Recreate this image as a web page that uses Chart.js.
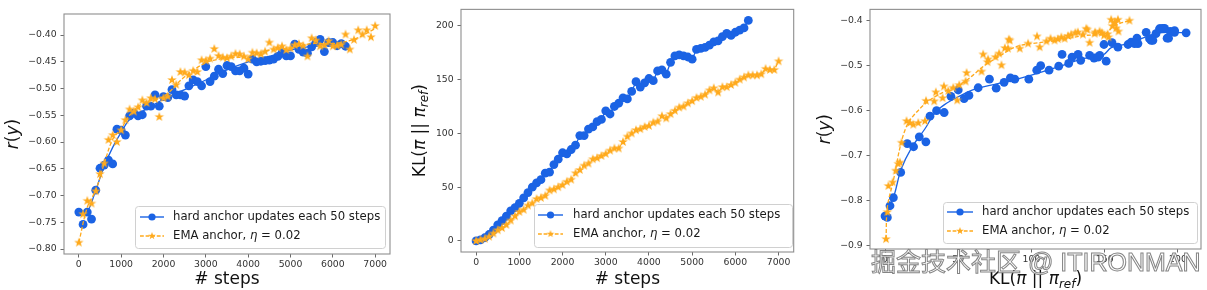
<!DOCTYPE html>
<html>
<head>
<meta charset="utf-8">
<script src="https://cdn.jsdelivr.net/npm/chart.js@4.4.1/dist/chart.umd.min.js"></script>
<style>
  body { margin: 0; background: #fff; }
  #wrap { position: relative; width: 1207px; height: 290px; overflow: hidden; background: #fff; }
  canvas { position: absolute; top: 0; }
  #watermark {
    position: absolute; left: 871px; top: 247px;
    font-family: "Liberation Sans", "Noto Sans CJK SC", sans-serif;
    font-size: 25px; line-height: 30px; white-space: nowrap;
    color: rgba(255,255,255,0.92);
    -webkit-text-stroke: 1px rgba(110,110,110,0.85);
  }
</style>
</head>
<body>
<div id="wrap">
  <canvas id="c1" width="400" height="290" style="left:0"></canvas>
  <canvas id="c2" width="400" height="290" style="left:400px"></canvas>
  <canvas id="c3" width="407" height="290" style="left:800px"></canvas>
  <div id="watermark">掘金技术社区 @ ITIRONMAN</div>
</div>
<script>
// ---- data ----
const hardSteps = [0,100,200,300,400,500,600,700,800,900,1000,1100,1200,1300,1400,1500,1600,1700,1800,1900,
  2000,2100,2200,2300,2400,2500,2600,2700,2800,2900,3000,3100,3200,3300,3400,3500,3600,3700,3800,3900,
  4000,4100,4200,4300,4400,4500,4600,4700,4800,4900,5000,5100,5200,5300,5400,5500,5600,5700,5800,5900,
  6000,6100,6200,6300];
const emaSteps = [0,100,200,300,400,500,600,700,800,900,1000,1100,1200,1300,1400,1500,1600,1700,1800,1900,
  2000,2100,2200,2300,2400,2500,2600,2700,2800,2900,3000,3100,3200,3300,3400,3500,3600,3700,3800,3900,
  4000,4100,4200,4300,4400,4500,4600,4700,4800,4900,5000,5100,5200,5300,5400,5500,5600,5700,5800,5900,
  6000,6100,6200,6300,6400,6500,6600,6700,6800,6900,7000];

// panel 1: reward vs steps
const hardReward = [-0.731,-0.754,-0.731,-0.744,-0.690,-0.649,-0.643,-0.634,-0.641,-0.576,
  -0.578,-0.587,-0.551,-0.546,-0.551,-0.549,-0.533,-0.533,-0.512,-0.533,
  -0.515,-0.517,-0.502,-0.512,-0.512,-0.514,-0.495,-0.484,-0.487,-0.495,
  -0.459,-0.487,-0.477,-0.464,-0.472,-0.457,-0.459,-0.467,-0.467,-0.462,
  -0.473,-0.445,-0.450,-0.449,-0.448,-0.447,-0.445,-0.440,-0.433,-0.439,
  -0.439,-0.417,-0.427,-0.432,-0.434,-0.422,-0.414,-0.408,-0.431,-0.414,
  -0.414,-0.420,-0.416,-0.421];
const emaReward = [-0.788,-0.735,-0.710,-0.715,-0.692,-0.660,-0.640,-0.596,-0.587,-0.600,
  -0.578,-0.559,-0.539,-0.543,-0.535,-0.522,-0.527,-0.518,-0.520,-0.553,
  -0.518,-0.515,-0.484,-0.493,-0.469,-0.470,-0.475,-0.467,-0.469,-0.447,
  -0.448,-0.444,-0.426,-0.439,-0.442,-0.443,-0.440,-0.435,-0.436,-0.440,
  -0.445,-0.433,-0.434,-0.436,-0.431,-0.414,-0.427,-0.424,-0.421,-0.428,
  -0.425,-0.419,-0.417,-0.420,-0.440,-0.406,-0.410,-0.421,-0.419,-0.411,
  -0.421,-0.420,-0.418,-0.399,-0.427,-0.409,-0.391,-0.399,-0.391,-0.404,
  -0.383];
const hardCurveSteps = [0,200,400,600,800,1000,1200,1500,2000,2500,3000,3500,4000,4500,5000,5500,6000,6300];
const hardCurveReward = [-0.735,-0.730,-0.690,-0.645,-0.610,-0.582,-0.558,-0.543,-0.520,-0.502,
  -0.484,-0.465,-0.450,-0.440,-0.428,-0.421,-0.415,-0.416];
const emaCurveSteps = [0,200,400,600,800,1000,1200,1500,2000,2500,3000,3500,4000,4500,5000,5500,6000,6500,7000];
const emaCurveReward = [-0.788,-0.722,-0.690,-0.640,-0.595,-0.575,-0.550,-0.528,-0.515,-0.478,
  -0.452,-0.443,-0.440,-0.428,-0.424,-0.416,-0.416,-0.408,-0.388];

// panel 2: KL vs steps
const hardKL = [0,1,3,6,10,15,19,23,28,31,35,40,45,50,54,57,63,64,71,76,
  82,81,85,89,98,98,104,106,111,113,121,118,125,128,133,132,139,148,143,147,
  151,149,158,159,155,166,172,173,172,171,169,178,179,180,182,185,186,190,193,191,
  194,196,198,205];
const emaKL = [0,1,2,4,7,10,12,15,19,23,27,29,33,35,39,40,42,47,48,50,
  52,55,57,63,66,70,72,76,77,79,81,84,86,86,92,97,100,103,104,106,
  107,110,111,116,114,118,121,124,125,128,130,133,134,136,140,142,138,143,143,145,
  147,150,152,154,154,154,155,160,159,159,167];

// panel 3: reward vs KL
const hardKL3 = [0,1.6,3.4,5.7,10.7,15.2,19.5,23.4,27.9,30.7,35.2,40.4,45,50,54,57.3,63.6,71.3,75.9,81.3,
  85.6,88.6,98.2,103.6,106.3,112,118.6,120.9,125.4,127.7,131.8,133.6,139.7,142.7,146.6,149.5,151,155,159,165.9,
  168,172,172.7,178.3,181.7,185,188.1,190.9,192.6,194.7,197.7,205.6,145.4,170.4,180.6,182.9,187.4,189.7,193.6,197.7];
const hardReward3 = [-0.834,-0.837,-0.811,-0.793,-0.737,-0.673,-0.680,-0.658,-0.669,-0.612,
  -0.600,-0.604,-0.568,-0.554,-0.573,-0.566,-0.549,-0.530,-0.550,-0.537,
  -0.527,-0.530,-0.530,-0.510,-0.500,-0.510,-0.501,-0.475,-0.495,-0.481,
  -0.475,-0.488,-0.477,-0.483,-0.477,-0.453,-0.490,-0.449,-0.459,-0.453,
  -0.448,-0.439,-0.451,-0.426,-0.444,-0.429,-0.418,-0.417,-0.439,-0.424,
  -0.422,-0.427,-0.481,-0.451,-0.440,-0.444,-0.418,-0.417,-0.439,-0.426];
const emaKL3 = [0.7,1.6,2.3,5.2,7.3,9,10.2,11.3,14.7,17,19.3,22.7,27.3,28,33.6,34.7,39.3,40.2,43.2,46.6,
  49.3,50.7,55,55.7,65.9,67,70,70.4,75.4,77.9,79.5,84,84.5,92,97.7,103.8,105.6,110.2,115.8,120.4,
  122.6,127.1,131.7,135.1,138.1,139.7,143.1,146.5,149.5,152.6,154.4,156.7,157.8,159,159.4,166.9,
  81.8,85.2,113,118,125,130,137.4,143.5,148,152,155.2,157];
const emaReward3 = [-0.885,-0.825,-0.767,-0.759,-0.733,-0.718,-0.715,-0.671,-0.623,-0.627,
  -0.631,-0.627,-0.623,-0.578,-0.579,-0.559,-0.572,-0.546,-0.556,-0.549,
  -0.577,-0.543,-0.535,-0.516,-0.513,-0.475,-0.492,-0.486,-0.481,-0.473,
  -0.499,-0.462,-0.442,-0.462,-0.451,-0.435,-0.459,-0.446,-0.444,-0.437,
  -0.440,-0.431,-0.426,-0.431,-0.420,-0.449,-0.429,-0.424,-0.433,-0.437,
  -0.398,-0.405,-0.417,-0.398,-0.424,-0.400,
  -0.461,-0.444,-0.440,-0.441,-0.434,-0.427,-0.418,-0.426,-0.427,-0.430,-0.412,-0.404];
const hardCurveKL3 = [0,3,6.5,11,18,27.3,34,40.4,50,61.3,84,100,118,136,149,154.5,166,175,186,196,205.6];
const hardCurveReward3 = [-0.835,-0.815,-0.785,-0.730,-0.683,-0.640,-0.605,-0.587,-0.569,-0.552,
  -0.535,-0.521,-0.503,-0.484,-0.476,-0.460,-0.451,-0.440,-0.428,-0.426,-0.427];
const emaCurveKL3 = [0.7,1.6,5.7,10.2,14,18.1,29.5,40.9,54.5,68.2,77.2,88.6,100,118,136.3,150,156.8,166.9];
const emaCurveReward3 = [-0.885,-0.814,-0.755,-0.682,-0.640,-0.616,-0.579,-0.557,-0.535,-0.499,
  -0.481,-0.459,-0.451,-0.444,-0.433,-0.429,-0.411,-0.400];

// tick labels
const stepTicks = [0,1000,2000,3000,4000,5000,6000,7000];
const rewardTicks1 = [-0.80,-0.75,-0.70,-0.65,-0.60,-0.55,-0.50,-0.45,-0.40];
const klTicks = [0,50,100,150,200];
const rewardTicks3 = [-0.9,-0.8,-0.7,-0.6,-0.5,-0.4];

const legendLabels = ['hard anchor updates each 50 steps', 'EMA anchor, '];

// ---- styling helpers ----
const BLUE = '#1b63e4';
const ORANGE = '#ffaa1d';
const FONT = '"DejaVu Sans", sans-serif';

function makeStar(r, color) {
  const s = Math.ceil(r * 2) + 2;
  const c = document.createElement('canvas');
  c.width = s; c.height = s;
  const g = c.getContext('2d');
  g.fillStyle = color;
  g.beginPath();
  for (let i = 0; i < 10; i++) {
    const rad = i % 2 ? r * 0.4 : r;
    const a = -Math.PI / 2 + i * Math.PI / 5;
    g.lineTo(s / 2 + rad * Math.cos(a), s / 2 + rad * Math.sin(a));
  }
  g.closePath();
  g.fill();
  return c;
}
const starBig = makeStar(5, ORANGE);
const starSmall = makeStar(4, ORANGE);

const pts = (xs, ys) => xs.map((x, i) => ({ x: x, y: ys[i] }));
const minus = s => s.replace('-', '\u2212');

function drawRich(ctx, parts, cx, cy, rot) {
  ctx.save();
  ctx.translate(cx, cy);
  if (rot) ctx.rotate(-Math.PI / 2);
  ctx.textBaseline = 'alphabetic';
  ctx.fillStyle = '#111';
  let w = 0;
  parts.forEach(p => { ctx.font = p.f; p.w = ctx.measureText(p.t).width; w += p.w; });
  let x = -w / 2;
  parts.forEach(p => { ctx.font = p.f; ctx.fillText(p.t, x, p.dy || 0); x += p.w; });
  ctx.restore();
}

const REG = '17px ' + FONT;
const ITA = 'italic 17px ' + FONT;
const rLabel = [{ t: 'r', f: ITA }, { t: '(', f: REG }, { t: 'y', f: ITA }, { t: ')', f: REG }];
const klLabel = [{ t: 'KL(', f: REG }, { t: '\u03c0', f: ITA }, { t: ' || ', f: REG },
  { t: '\u03c0', f: ITA }, { t: 'ref', f: 'italic 12px ' + FONT, dy: 3.5 }, { t: ')', f: REG }];
const stepsLabel = [{ t: '# steps', f: REG }];

function drawLegend(ctx, L) {
  ctx.save();
  ctx.beginPath();
  ctx.roundRect(L.x + 0.5, L.y + 0.5, L.w, L.h, 3);
  ctx.fillStyle = 'rgba(255,255,255,0.8)';
  ctx.fill();
  ctx.strokeStyle = '#d0d0d0';
  ctx.lineWidth = 1;
  ctx.stroke();
  const mid = (L.lx0 + L.lx1) / 2;
  // row 1
  ctx.strokeStyle = BLUE; ctx.lineWidth = 1.4; ctx.setLineDash([]);
  ctx.beginPath(); ctx.moveTo(L.lx0, L.y1); ctx.lineTo(L.lx1, L.y1); ctx.stroke();
  ctx.fillStyle = BLUE;
  ctx.beginPath(); ctx.arc(mid, L.y1, 3.6, 0, Math.PI * 2); ctx.fill();
  // row 2
  ctx.strokeStyle = ORANGE; ctx.setLineDash([3.8, 1.8]);
  ctx.beginPath(); ctx.moveTo(L.lx0, L.y2); ctx.lineTo(L.lx1, L.y2); ctx.stroke();
  ctx.setLineDash([]);
  ctx.drawImage(starSmall, mid - starSmall.width / 2, L.y2 - starSmall.height / 2);
  // texts
  ctx.fillStyle = '#1a1a1a';
  ctx.textBaseline = 'middle';
  ctx.font = '11.7px ' + FONT;
  ctx.fillText(legendLabels[0], L.tx, L.y1);
  let x = L.tx;
  ctx.fillText(legendLabels[1], x, L.y2);
  x += ctx.measureText(legendLabels[1]).width;
  ctx.font = 'italic 11.7px ' + FONT;
  ctx.fillText('\u03b7', x, L.y2);
  x += ctx.measureText('\u03b7').width;
  ctx.font = '11.7px ' + FONT;
  ctx.fillText(' = 0.02', x, L.y2);
  ctx.restore();
}

function axis(min, max, size, ticks, fmt, isX) {
  return {
    type: 'linear', min: min, max: max,
    afterFit: s => { if (isX) s.height = size; else s.width = size; },
    afterBuildTicks: s => { s.ticks = ticks.map(v => ({ value: v })); },
    grid: { drawOnChartArea: false, drawTicks: true, tickLength: 3.5, color: '#444', lineWidth: 0.8 },
    border: { display: false },
    ticks: { font: { family: FONT, size: 9.3 }, color: '#333', padding: isX ? 2 : 3.8,
      maxRotation: 0, autoSkip: false, callback: fmt }
  };
}

function dotSet(data, order) {
  return { data: data, showLine: false, pointStyle: 'circle', pointRadius: 4.4,
    pointBackgroundColor: BLUE, pointBorderWidth: 0, order: order };
}
function starSet(data, order) {
  return { data: data, showLine: false, pointStyle: starBig, pointRadius: 5, order: order };
}
function curveSet(data, color, dash, order) {
  return { data: data, showLine: true, borderColor: color, borderWidth: 1.3, borderDash: dash,
    pointRadius: 0, tension: 0.35, fill: false, order: order };
}

function createChart(id, cfg) {
  const deco = {
    id: 'deco',
    afterDraw(chart) {
      const ctx = chart.ctx;
      const a = chart.chartArea;
      ctx.save();
      ctx.strokeStyle = '#8e8e8e';
      ctx.lineWidth = 1.1;
      ctx.strokeRect(a.left, a.top, a.right - a.left, a.bottom - a.top);
      ctx.restore();
      drawLegend(ctx, cfg.legend);
      drawRich(ctx, cfg.yLabel, cfg.yLabelX, (a.top + a.bottom) / 2, true);
      drawRich(ctx, cfg.xLabel, (a.left + a.right) / 2, cfg.xLabelY, false);
    }
  };
  return new Chart(document.getElementById(id), {
    type: 'scatter',
    data: { datasets: cfg.datasets },
    options: {
      responsive: false, animation: false, events: [],
      layout: { padding: cfg.padding },
      plugins: { legend: { display: false }, tooltip: { enabled: false } },
      scales: { x: cfg.x, y: cfg.y }
    },
    plugins: [deco]
  });
}

const fmt2 = v => minus(v.toFixed(2));
const fmt1 = v => minus(v.toFixed(1));
const fmt0 = v => String(Math.round(v));

createChart('c1', {
  padding: { left: 0, top: 14, right: 10, bottom: 0 },
  x: axis(-350, 7350, 36, stepTicks, fmt0, true),
  y: axis(-0.8093, -0.3607, 64, rewardTicks1, fmt2, false),
  datasets: [
    starSet(pts(emaSteps, emaReward), 0),
    curveSet(pts(emaCurveSteps, emaCurveReward), ORANGE, [4, 2], 1),
    dotSet(pts(hardSteps, hardReward), 2),
    curveSet(pts(hardCurveSteps, hardCurveReward), BLUE, [], 3)
  ],
  legend: { x: 135, y: 206, w: 250, h: 42, y1: 217, y2: 236, lx0: 140, lx1: 164, tx: 173 },
  yLabel: rLabel, yLabelX: 17.5, xLabel: stepsLabel, xLabelY: 284
});

createChart('c2', {
  padding: { left: 0, top: 7, right: 4, bottom: 0 },
  x: axis(-350, 7350, 38, stepTicks, fmt0, true),
  y: axis(-10.25, 215.25, 61, klTicks, fmt0, false),
  datasets: [
    Object.assign(starSet(pts(emaSteps, emaKL), 0), { showLine: true, borderColor: ORANGE, borderWidth: 1.3, borderDash: [4, 2] }),
    Object.assign(dotSet(pts(hardSteps, hardKL), 1), { showLine: true, borderColor: BLUE, borderWidth: 1.3 })
  ],
  legend: { x: 134, y: 204, w: 258, h: 43, y1: 215, y2: 234, lx0: 138, lx1: 163, tx: 173 },
  yLabel: klLabel, yLabelX: 24.5, xLabel: stepsLabel, xLabelY: 284
});

createChart('c3', {
  padding: { left: 0, top: 7, right: 5, bottom: 0 },
  x: axis(-10.25, 215.75, 41, klTicks, fmt0, true),
  y: axis(-0.907, -0.375, 70, rewardTicks3, fmt1, false),
  datasets: [
    starSet(pts(emaKL3, emaReward3), 0),
    curveSet(pts(emaCurveKL3, emaCurveReward3), ORANGE, [4, 2], 1),
    dotSet(pts(hardKL3, hardReward3), 2),
    curveSet(pts(hardCurveKL3, hardCurveReward3), BLUE, [], 3)
  ],
  legend: { x: 143, y: 202, w: 254, h: 41, y1: 212, y2: 231, lx0: 147, lx1: 173, tx: 182 },
  yLabel: rLabel, yLabelX: 29.5, xLabel: klLabel, xLabelY: 284
});
</script>
</body>
</html>
